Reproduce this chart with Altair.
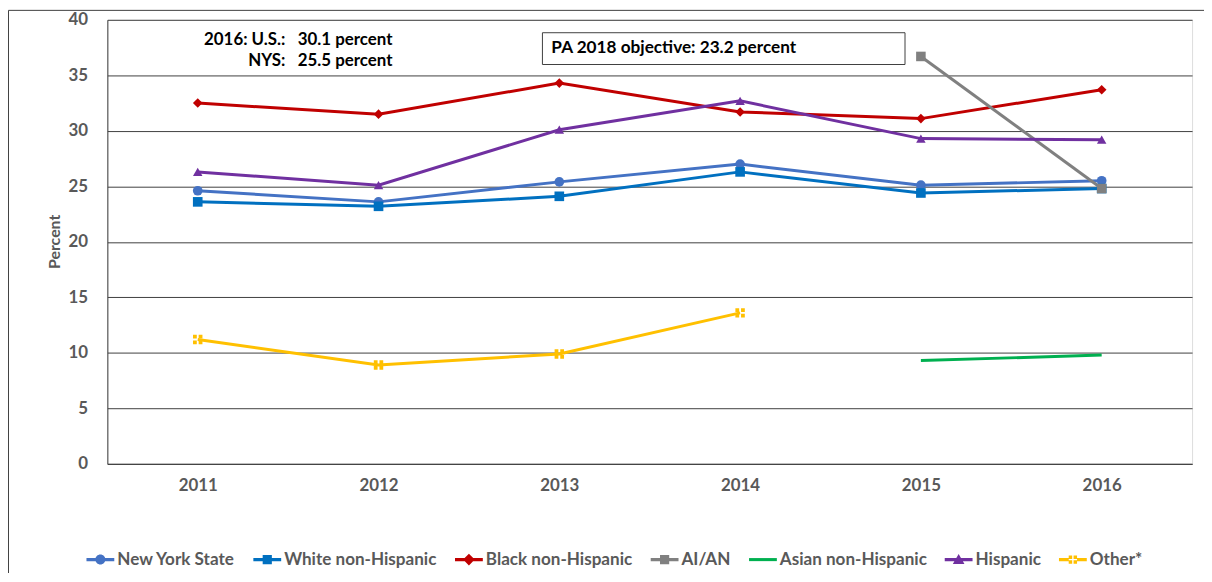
import altair as alt
import pandas as pd

years = ["2011", "2012", "2013", "2014", "2015", "2016"]
series = ["New York State", "White non-Hispanic", "Black non-Hispanic", "AI/AN",
          "Asian non-Hispanic", "Hispanic", "Other*"]
nys = [24.6, 23.6, 25.4, 27.0, 25.1, 25.5]
white = [23.6, 23.2, 24.1, 26.3, 24.4, 24.8]
black = [32.5, 31.5, 34.3, 31.7, 31.1, 33.7]
aian = [None, None, None, None, 36.7, 24.8]
asian = [None, None, None, None, 9.3, 9.8]
hispanic = [26.3, 25.1, 30.1, 32.7, 29.3, 29.2]
other = [11.2, 8.9, 9.9, 13.6, None, None]
colors = ["#4472C4", "#0070C0", "#C00000", "#808080", "#00B050", "#7030A0", "#FFC000"]

ann_lines = ["2016: U.S.:\u00a0\u00a0 30.1 percent", "NYS:\u00a0\u00a0 25.5 percent"]
box_text = ["PA 2018 objective: 23.2 percent"]

vals = [nys, white, black, aian, asian, hispanic, other]
rows = []
for s, v in zip(series, vals):
    for y, val in zip(years, v):
        if val is not None:
            rows.append({"series": s, "year": y, "value": val})
df = pd.DataFrame(rows)
df_pts = df[df["series"] != "Asian non-Hispanic"]

other_shape = ("M-1,-1H-0.2V-0.2H-1Z M0.2,-1H1V-0.2H0.2Z "
               "M-1,0.2H-0.2V1H-1Z M0.2,0.2H1V1H0.2Z")
shapes = ["circle", "square", "diamond", "square", "circle", "triangle-up", other_shape]
sizes = [95, 90, 140, 115, 0, 130, 70]

# legend symbol paths (line + marker)
L = "M-1,-0.11H1V0.11H-1Z "
leg_paths = [
    L + "M-0.36,0A0.36,0.36,0,1,1,0.36,0A0.36,0.36,0,1,1,-0.36,0Z",
    L + "M-0.33,-0.33H0.33V0.33H-0.33Z",
    L + "M-0.42,0L0,-0.42L0.42,0L0,0.42Z",
    L + "M-0.33,-0.33H0.33V0.33H-0.33Z",
    L,
    L + "M-0.42,0.32L0,-0.4L0.42,0.32Z",
    ("M-1,-0.11H-0.3V0.11H-1Z M0.3,-0.11H1V0.11H0.3Z "
     "M-0.3,-0.3H-0.05V-0.05H-0.3Z M0.05,-0.3H0.3V-0.05H0.05Z "
     "M-0.3,0.05H-0.05V0.3H-0.3Z M0.05,0.05H0.3V0.3H0.05Z"),
]

FONT = "Lato"
GRAY = "#595959"

x_enc = alt.X("year:O", title=None,
              axis=alt.Axis(labelAngle=0, ticks=False, labelPadding=14,
                            labelFontSize=17, labelFontWeight="bold",
                            labelColor=GRAY, labelFont=FONT,
                            domainColor="#404040", grid=False))
y_enc = alt.Y("value:Q", title="Percent",
              scale=alt.Scale(domain=[0, 40], nice=False),
              axis=alt.Axis(values=list(range(0, 41, 5)), ticks=False,
                            labelPadding=20, labelFontSize=17,
                            labelFontWeight="bold", labelColor=GRAY,
                            labelFont=FONT, grid=True, gridColor="#404040",
                            domainColor="#404040", titleFont=FONT,
                            titleFontSize=16, titleFontWeight="bold",
                            titleColor=GRAY, titleX=-45, titleY=223))

color_scale = alt.Scale(domain=series, range=colors)

lines = alt.Chart(df).mark_line(strokeWidth=3).encode(
    x=x_enc, y=y_enc,
    color=alt.Color("series:N", scale=color_scale, legend=None),
    detail="series:N",
)

points = alt.Chart(df_pts).mark_point(filled=True, opacity=1, strokeWidth=0).encode(
    x=x_enc, y=y_enc,
    color=alt.Color("series:N", scale=color_scale, legend=None),
    shape=alt.Shape("series:N", scale=alt.Scale(domain=series, range=shapes), legend=None),
    size=alt.Size("series:N", scale=alt.Scale(domain=series, range=sizes), legend=None),
)

leg_kw = dict(orient="none", legendX=-21, legendY=529, direction="horizontal",
              symbolSize=784, labelFont=FONT, labelFontSize=17.2,
              labelFontWeight="bold", labelColor=GRAY, labelOffset=3,
              columnPadding=18, symbolStrokeWidth=0, symbolOpacity=1,
              title=None)
legend_layer = alt.Chart(pd.DataFrame({"series": series})).mark_point(
    filled=True, opacity=0, strokeWidth=0).encode(
    x=alt.value(0), y=alt.value(0),
    color=alt.Color("series:N", scale=alt.Scale(domain=series, range=colors),
                    sort=series, legend=alt.Legend(**leg_kw)),
    shape=alt.Shape("series:N", scale=alt.Scale(domain=series, range=leg_paths),
                    sort=series, legend=alt.Legend(**leg_kw)),
)

frame_left = alt.Chart(pd.DataFrame({"a": [0]})).mark_rule(color="#404040", strokeWidth=1).encode(
    x=alt.value(-99.5), y=alt.value(-9.5), y2=alt.value(570))
frame_top = alt.Chart(pd.DataFrame({"a": [0]})).mark_rule(color="#404040", strokeWidth=1).encode(
    x=alt.value(-99.5), x2=alt.value(1200), y=alt.value(-9.5))

box = alt.Chart(pd.DataFrame({"t": box_text})).mark_rect(
    fill="white", stroke="#404040", strokeWidth=1).encode(
    x=alt.value(438), x2=alt.value(803), y=alt.value(13), y2=alt.value(45))
box_label = alt.Chart(pd.DataFrame({"t": box_text})).mark_text(
    align="left", baseline="middle", font=FONT, fontSize=17.3,
    fontWeight="bold", color="black").encode(
    x=alt.value(447), y=alt.value(28), text="t:N")

ann1 = alt.Chart(pd.DataFrame({"t": [ann_lines[0]]})).mark_text(
    align="right", baseline="middle", font=FONT, fontSize=17,
    fontWeight="bold", color="black").encode(
    x=alt.value(287), y=alt.value(20.5), text="t:N")
ann2 = alt.Chart(pd.DataFrame({"t": [ann_lines[1]]})).mark_text(
    align="right", baseline="middle", font=FONT, fontSize=17,
    fontWeight="bold", color="black").encode(
    x=alt.value(287), y=alt.value(41.5), text="t:N")

chart = alt.layer(frame_left, frame_top, box, lines, points, box_label, ann1, ann2,
                  legend_layer).resolve_scale(
    color="independent", shape="independent", size="independent"
).properties(
    width=1092, height=447,
    autosize=alt.AutoSizeParams(type="none"),
    padding={"left": 100, "top": 10, "right": 12, "bottom": 108},
).configure_view(stroke=None).configure(background="white")

chart.save("out.html", embed_options={"renderer": "svg", "actions": False})
